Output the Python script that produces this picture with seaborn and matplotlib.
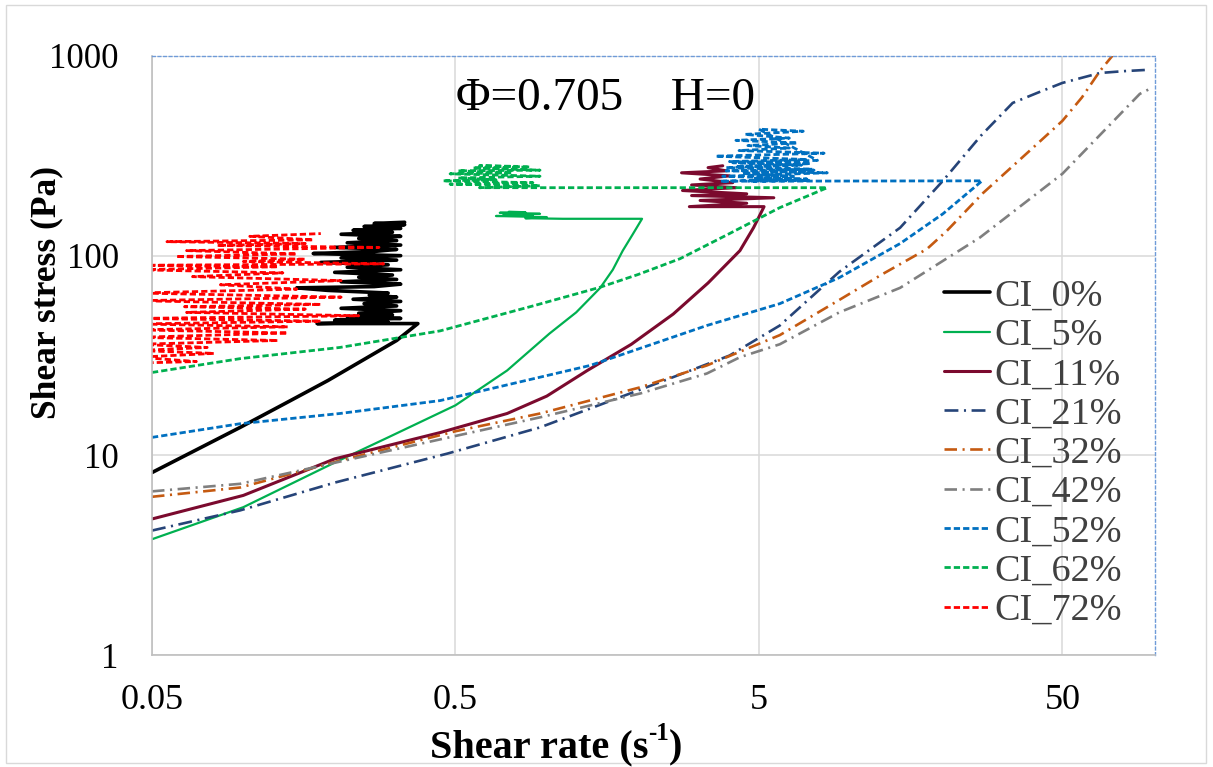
import numpy as np
import pandas as pd
import matplotlib
matplotlib.use("Agg")
import matplotlib.pyplot as plt
import seaborn as sns
from matplotlib.patches import Rectangle
from matplotlib.ticker import NullLocator

# ---------------- data ----------------
labels = ["CI_0%", "CI_5%", "CI_11%", "CI_21%", "CI_32%", "CI_42%", "CI_52%", "CI_62%", "CI_72%"]

x_ci0 = [0.05, 0.0976, 0.143, 0.19, 0.32, 0.376, 0.175, 0.30, 0.20, 0.33,
         0.22, 0.31, 0.24, 0.33, 0.21, 0.32, 0.25, 0.33, 0.23, 0.32,
         0.26, 0.30, 0.19, 0.15, 0.27, 0.33, 0.21, 0.32, 0.24, 0.31,
         0.20, 0.33, 0.22, 0.30, 0.18, 0.32, 0.21, 0.33, 0.17, 0.27,
         0.32, 0.20, 0.33, 0.22, 0.32, 0.24, 0.33, 0.21, 0.31, 0.23,
         0.33, 0.25, 0.34, 0.27, 0.34]
y_ci0 = [8.2, 13.8, 18.8, 23.7, 37.6, 45.7, 45.7, 46.5, 47.5, 48.5,
         49.5, 50.5, 51.5, 53, 54.5, 56, 57.5, 59, 60.5, 62,
         63.5, 65, 67, 69, 70, 72, 74, 76, 78, 80,
         82.5, 85, 87.5, 90, 92.5, 95, 97.5, 100, 102.5, 105,
         107.5, 110, 113, 116, 119, 122, 125, 128, 131, 134,
         137, 140, 143, 145, 147]

x_ci5 = [0.05, 0.1, 0.2, 0.3, 0.5, 0.74, 1.02, 1.25, 1.5, 1.65,
         1.78, 1.92, 2.06, 1.13, 0.85, 1.0, 0.68, 0.9, 0.72, 0.95,
         0.7, 0.85, 0.75]
y_ci5 = [3.8, 5.5, 9.2, 12.3, 17.8, 26.6, 40.7, 52, 69, 85,
         106, 128, 153, 153, 154, 156, 158, 159, 161, 162,
         164, 165, 166]

x_ci11 = [0.05, 0.1, 0.2, 0.445, 0.74, 1.0, 1.36, 1.9, 2.61, 3.4,
          4.33, 4.8, 5.2, 2.95, 4.56, 3.2, 5.6, 3.0, 4.56, 2.8,
          4.2, 3.0, 4.1, 3.2, 4.0, 2.78, 3.9, 3.4, 3.8]
y_ci11 = [4.8, 6.3, 9.6, 13.0, 16.2, 19.8, 26.6, 36, 51, 73,
          106, 138, 176, 176, 183, 189, 195, 200, 204, 212,
          219, 226, 232, 242, 251, 260, 266, 276, 282]

x_ci21 = [0.05, 0.0976, 0.2, 0.47, 0.95, 2.3, 4.0, 5.86, 9.2, 14.6,
          20.2, 27, 34.3, 42, 50, 66.5, 80, 93.5]
y_ci21 = [4.2, 5.3, 7.3, 10.2, 13.8, 22.9, 31.6, 44.7, 83, 138,
          237, 400, 582, 660, 733, 822, 840, 851]

x_ci32 = [0.05, 0.0976, 0.208, 0.5, 0.95, 2.03, 3.37, 5.86, 9.2, 12.8,
          17.9, 20.8, 27.4, 40, 50, 58, 66.5, 73, 78]
y_ci32 = [6.2, 6.9, 9.4, 13.2, 16.2, 21.9, 28.2, 40, 60, 81,
          108, 133, 206, 347, 473, 620, 841, 1000, 1150]

x_ci42 = [0.05, 0.0976, 0.208, 0.5, 0.95, 2.03, 3.37, 4.33, 5.86, 9.2,
          14.6, 26.7, 50, 90, 97]
y_ci42 = [6.6, 7.2, 9.3, 12.5, 15.5, 20.4, 25.7, 31, 36, 52,
          69, 123, 257, 646, 684]

x_ci52 = [0.05, 0.0976, 0.208, 0.445, 1.39, 3.37, 5.86, 9.2, 14.6, 20.2,
          27.2, 3.73, 7.2, 3.8, 8.4, 3.9, 7.5, 4.2, 7.4, 4.0,
          7.2, 3.6, 8.2, 4.3, 6.3, 4.6, 6.7, 4.2, 6.3, 4.5,
          7.0, 5.0, 7.8, 4.1, 6.9, 3.9, 7.6, 4.4, 6.5, 4.8,
          7.3, 4.6]
y_ci52 = [12.3, 14.4, 16.2, 18.8, 28.2, 44.7, 57.5, 77.6, 115, 162,
          237, 236, 242, 250, 260, 266, 271, 280, 289, 296,
          303, 315, 326, 336, 346, 356, 367, 378, 388, 405,
          420, 430, 300, 292, 284, 276, 268, 258, 250, 244,
          238, 236]

x_ci62 = [0.05, 0.0976, 0.208, 0.445, 0.9, 1.5, 2.0, 2.75, 4.0, 5.86,
          8.4, 0.6, 0.95, 0.48, 0.9, 0.455, 0.68, 0.51, 0.95, 0.48,
          0.77, 0.51, 0.95, 0.57, 0.88, 0.6, 0.8]
y_ci62 = [26, 30.5, 34.7, 42, 56, 69.5, 80.5, 96.6, 129, 174,
          219, 219, 224, 228, 232, 237, 240, 245, 250, 257,
          260, 266, 268, 275, 278, 282, 280]

x_ci72 = [0.045, 0.07, 0.045, 0.08, 0.045, 0.076, 0.045, 0.13, 0.045, 0.14,
          0.045, 0.14, 0.045, 0.18, 0.045, 0.24, 0.065, 0.16, 0.064, 0.18,
          0.045, 0.21, 0.045, 0.15, 0.084, 0.21, 0.068, 0.135, 0.045, 0.13,
          0.045, 0.29, 0.1, 0.16, 0.06, 0.15, 0.065, 0.28, 0.082, 0.16,
          0.056, 0.17, 0.105, 0.18]
y_ci72 = [29, 29.5, 31, 32.4, 33.5, 34.7, 36, 37.6, 39, 41,
          42.5, 44, 45.5, 47, 48.5, 50, 52, 54, 55.5, 57,
          59.5, 62, 65, 68, 71.5, 75, 78.5, 82, 85, 88,
          89.5, 91, 93.5, 96, 99, 102, 106, 110, 112.5, 115,
          117.5, 120, 125, 129]

xs_all = [x_ci0, x_ci5, x_ci11, x_ci21, x_ci32, x_ci42, x_ci52, x_ci62, x_ci72]
ys_all = [y_ci0, y_ci5, y_ci11, y_ci21, y_ci32, y_ci42, y_ci52, y_ci62, y_ci72]

x_ticks = [0.05, 0.5, 5, 50]
x_tick_labels = ["0.05", "0.5", "5", "50"]
y_ticks = [1, 10, 100, 1000]
y_tick_labels = ["1", "10", "100", "1000"]

# ---------------- styles ----------------
colors = ["#000000", "#00B050", "#7B0A2E", "#264478", "#C55A11",
          "#7F7F7F", "#0070C0", "#00B050", "#FF0000"]
widths = [2.6, 1.6, 2.2, 1.9, 1.9, 1.9, 2.0, 2.0, 2.0]
styles = ["-", "-", "-",
          (0, (10, 4, 1.5, 4)), (0, (9, 4, 1.5, 4)), (0, (9, 4, 1.5, 4)),
          (0, (4.5, 2.2)), (0, (4.5, 2.2)), (0, (4.5, 2.2))]

sns.set_theme(style="white")
plt.rcParams["font.family"] = ["Liberation Serif", "DejaVu Serif"]
plt.rcParams["lines.scale_dashes"] = False

W, H = 1213, 767
fig = plt.figure(figsize=(W / 100, H / 100), dpi=100)
fig.patch.set_facecolor("white")
ax = fig.add_axes([152 / W, 1 - 655 / H, 1003 / W, 599 / H])
ax.set_xscale("log")
ax.set_yscale("log")

for lab, xs, ys, c, lw, ls in zip(labels, xs_all, ys_all, colors, widths, styles):
    df = pd.DataFrame({"x": xs, "y": ys})
    sns.lineplot(data=df, x="x", y="y", sort=False, estimator=None, ax=ax,
                 color=c, linewidth=lw, linestyle=ls, label=lab)

ax.set_xlim(0.05, 101)
ax.set_ylim(1, 1000)
ax.set_xticks(x_ticks)
ax.set_xticklabels(x_tick_labels)
ax.set_yticks(y_ticks)
ax.set_yticklabels(y_tick_labels)
ax.xaxis.set_minor_locator(NullLocator())
ax.yaxis.set_minor_locator(NullLocator())
ax.tick_params(axis="both", length=0, labelcolor="black")
ax.tick_params(axis="x", pad=21, labelsize=26)
ax.tick_params(axis="y", pad=24, labelsize=25)
ax.grid(True, which="major", color="#D9D9D9", linewidth=1.1)
ax.set_axisbelow(True)

for s in ["left", "bottom"]:
    ax.spines[s].set_color("#BFBFBF")
    ax.spines[s].set_linewidth(1.2)
for s in ["top", "right"]:
    ax.spines[s].set_color("#6F9BD8")
    ax.spines[s].set_linewidth(1.0)
    ax.spines[s].set_linestyle((0, (2, 2)))

ax.set_xlabel("")
ax.set_ylabel("Shear stress (Pa)", fontsize=25.5, fontweight="bold", color="black")
ax.yaxis.set_label_coords(-0.088, 0.606)

ax.text(0.452, 0.928, "\u03A6=0.705    H=0", transform=ax.transAxes,
        ha="center", va="center", fontsize=34, color="black")

handles, labs = ax.get_legend_handles_labels()
leg = ax.legend(handles, labs, loc="upper left", bbox_to_anchor=(0.79, 0.628),
                frameon=False, fontsize=27.5, labelspacing=0.12, handlelength=1.2,
                handletextpad=0.12, borderaxespad=0, borderpad=0)
for t in leg.get_texts():
    t.set_color("#404040")

# x-axis title with a small raised "-1", assembled from pieces
fig.canvas.draw()
rend = fig.canvas.get_renderer()
fs_x = 29
pieces = [("Shear rate (s", fs_x, 0.0), ("-1", fs_x * 0.62, fs_x * 0.42 * 100 / 72), (")", fs_x, 0.0)]
widths_px = []
for txt, fs, _ in pieces:
    tt = fig.text(0, 0, txt, fontsize=fs, fontweight="bold")
    widths_px.append(tt.get_window_extent(rend).width)
    tt.remove()
cx, base_y = 556, 757
x_cur = cx - sum(widths_px) / 2
for (txt, fs, dy), wpx in zip(pieces, widths_px):
    fig.text(x_cur / W, 1 - (base_y - dy) / H, txt, fontsize=fs, fontweight="bold",
             va="baseline", ha="left", color="black")
    x_cur += wpx

fig.patches.append(Rectangle((6 / W, 4 / H), (W - 13) / W, (H - 9) / H,
                             transform=fig.transFigure, fill=False,
                             edgecolor="#D9D9D9", linewidth=1))

fig.savefig("out.png", dpi=100)
